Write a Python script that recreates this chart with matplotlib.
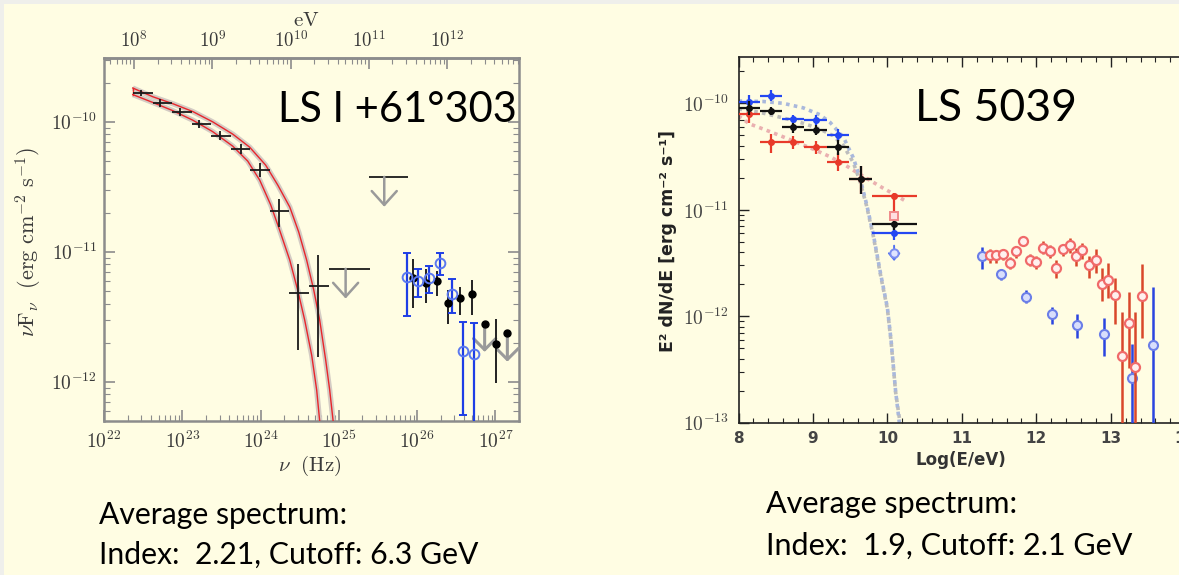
import matplotlib.pyplot as plt
import numpy as np
from matplotlib.patches import Rectangle
from matplotlib.ticker import FuncFormatter, LogLocator, NullFormatter, MultipleLocator

plt.rcParams['mathtext.fontset'] = 'cm'

W, H = 1179, 575
CREAM = '#fffde3'

# ---------------- LS I +61 303 (left panel), nu in Hz, nuFnu in erg/cm2/s
lat_nu = [2.95e22, 5.15e22, 9.27e22, 1.65e23, 3.03e23, 5.56e23, 9.9e23, 1.73e24, 3.05e24, 5.42e24]
lat_nu_lo = [2.34e22, 4.17e22, 7.41e22, 1.32e23, 2.34e23, 4.17e23, 7.41e23, 1.32e24, 2.34e24, 4.17e24]
lat_nu_hi = [4.17e22, 7.41e22, 1.32e23, 2.34e23, 4.17e23, 7.41e23, 1.32e24, 2.34e24, 4.17e24, 7.41e24]
lat_flux = [1.67e-10, 1.40e-10, 1.19e-10, 9.7e-11, 7.8e-11, 6.2e-11, 4.25e-11, 2.07e-11, 4.86e-12, 5.47e-12]
lat_lo = [1.57e-10, 1.31e-10, 1.11e-10, 9.0e-11, 7.2e-11, 5.7e-11, 3.75e-11, 1.56e-11, 1.75e-12, 1.56e-12]
lat_hi = [1.77e-10, 1.49e-10, 1.27e-10, 1.04e-10, 8.5e-11, 6.8e-11, 4.8e-11, 2.53e-11, 8.13e-12, 9.4e-12]

# upper limits with horizontal bars
ul_nu = [1.22e25, 3.8e25]
ul_nu_lo = [7.5e24, 2.4e25]
ul_nu_hi = [2.47e25, 7.7e25]
ul_flux = [7.4e-12, 3.77e-11]
ul_tip = [4.37e-12, 2.22e-11]

# model band (two curves)
band_hi_nu = [2.33e22, 4.19e22, 7.53e22, 1.36e23, 2.44e23, 4.41e23, 7.26e23, 1.16e24, 1.66e24,
              2.36e24, 3.07e24, 3.88e24, 4.78e24, 5.69e24, 6.79e24, 7.64e24, 8.45e24, 9.2e24]
band_hi_f = [1.82e-10, 1.56e-10, 1.38e-10, 1.20e-10, 1.00e-10, 8.04e-11, 6.38e-11, 4.65e-11, 3.26e-11,
             2.21e-11, 1.42e-11, 8.63e-12, 5.08e-12, 2.99e-12, 1.47e-12, 8.63e-13, 4.99e-13, 2.9e-13]
band_lo_nu = [2.33e22, 4.19e22, 7.53e22, 1.36e23, 2.44e23, 4.41e23, 6.85e23, 9.75e23, 1.35e24,
              1.75e24, 2.36e24, 2.98e24, 3.66e24, 4.50e24, 5.21e24, 5.69e24, 6.2e24]
band_lo_f = [1.62e-10, 1.41e-10, 1.22e-10, 1.03e-10, 8.41e-11, 6.50e-11, 4.99e-11, 3.56e-11, 2.29e-11,
             1.47e-11, 8.63e-12, 5.08e-12, 2.99e-12, 1.60e-12, 8.63e-13, 4.99e-13, 2.9e-13]

# blue open circles
mag_nu = [7.35e25, 1.02e26, 1.42e26, 1.98e26, 2.76e26, 3.81e26, 5.31e26]
mag_flux = [6.43e-12, 5.98e-12, 6.31e-12, 8.15e-12, 4.73e-12, 1.72e-12, 1.63e-12]
mag_lo = [3.20e-12, 4.46e-12, 4.84e-12, 6.62e-12, 3.36e-12, 5.55e-13, 3e-13]
mag_hi = [9.73e-12, 7.36e-12, 7.76e-12, 9.83e-12, 6.14e-12, 2.9e-12, 2.84e-12]

# black dots
ver_nu = [8.83e25, 1.28e26, 1.79e26, 2.50e26, 3.49e26, 5.07e26, 1.01e27]
ver_flux = [6.31e-12, 5.71e-12, 5.96e-12, 4.01e-12, 4.39e-12, 4.70e-12, 1.97e-12]
ver_lo = [3.67e-12, 4.01e-12, 4.56e-12, 2.81e-12, 3.26e-12, 3.26e-12, 9.73e-13]
ver_hi = [8.8e-12, 7.33e-12, 7.15e-12, 5.07e-12, 5.38e-12, 6.05e-12, 3.02e-12]
ver_ul_nu = [7.28e26, 1.42e27]
ver_ul_flux = [2.81e-12, 2.38e-12]
ver_ul_tip = [1.70e-12, 1.43e-12]

# ---------------- LS 5039 (right panel), log10(E/eV)
fermi_x = [8.14, 8.43, 8.73, 9.04, 9.34, 9.64, 10.09]
fermi_xlo = [8.0, 8.29, 8.58, 8.88, 9.19, 9.49, 9.79]
fermi_xhi = [8.29, 8.58, 8.88, 9.19, 9.49, 9.79, 10.40]
blue_idx = [0, 1, 2, 3, 4, 6]
blue_flux = [1.02e-10, 1.18e-10, 7.13e-11, 7.03e-11, 5.08e-11, 6.0e-12]
blue_lo = [8.6e-11, 1.06e-10, 6.5e-11, 6.3e-11, 4.5e-11, 5.2e-12]
blue_hi = [1.2e-10, 1.32e-10, 7.8e-11, 7.8e-11, 5.7e-11, 6.8e-12]
black_flux = [9.05e-11, 8.41e-11, 5.94e-11, 5.62e-11, 3.86e-11, 1.95e-11, 7.43e-12]
black_lo = [7.8e-11, 7.7e-11, 5.3e-11, 5.0e-11, 3.3e-11, 1.4e-11, 6.5e-12]
black_hi = [1.05e-10, 9.2e-11, 6.6e-11, 6.3e-11, 4.5e-11, 2.6e-11, 8.4e-12]
red_flux = [7.95e-11, 4.30e-11, 4.30e-11, 3.86e-11, 2.83e-11, 1.95e-11, 1.36e-11]
red_lo = [6.5e-11, 3.45e-11, 3.75e-11, 3.35e-11, 2.3e-11, 1.4e-11, 8.5e-12]
red_hi = [9.3e-11, 5.2e-11, 4.9e-11, 4.4e-11, 3.4e-11, 2.6e-11, 1.45e-11]

# model curves
mod_blue_x = [8.0, 8.33, 8.6, 8.87, 9.09, 9.23, 9.41, 9.54, 9.63, 9.72, 9.81, 9.91, 10.0, 10.05, 10.11, 10.16]
mod_blue_f = [1.05e-10, 1.04e-10, 1.0e-10, 9.06e-11, 7.83e-11, 6.62e-11, 4.79e-11, 3.10e-11, 2.01e-11,
              1.13e-11, 5.90e-12, 2.48e-12, 1.20e-12, 5.86e-13, 1.98e-13, 1.0e-13]
mod_gray_x = [8.0, 8.29, 8.6, 8.87, 9.09, 9.27, 9.41, 9.54, 9.63, 9.72, 9.81, 9.91, 10.0, 10.05, 10.11, 10.17]
mod_gray_f = [8.85e-11, 8.22e-11, 7.29e-11, 6.49e-11, 5.74e-11, 4.97e-11, 4.0e-11, 2.79e-11, 1.87e-11,
              1.09e-11, 5.69e-12, 2.39e-12, 1.17e-12, 5.71e-13, 1.94e-13, 1.0e-13]
mod_pink_x = [8.0, 8.15, 8.33, 8.56, 8.78, 9.0, 9.23, 9.41, 9.59, 9.76, 9.94, 10.12, 10.25]
mod_pink_f = [7.59e-11, 6.40e-11, 5.74e-11, 4.97e-11, 4.30e-11, 3.72e-11, 3.15e-11, 2.69e-11, 2.24e-11,
              1.90e-11, 1.60e-11, 1.36e-11, 1.20e-11]

# TeV points
hess_x = [11.375, 11.465, 11.554, 11.644, 11.733, 11.823, 11.912, 12.002, 12.092, 12.181, 12.271, 12.360,
          12.450, 12.531, 12.620, 12.710, 12.795, 12.884, 12.969, 13.054, 13.153, 13.247, 13.332, 13.422]
hess_flux = [3.75e-12, 3.75e-12, 3.83e-12, 3.19e-12, 4.06e-12, 5.04e-12, 3.37e-12, 3.24e-12, 4.42e-12,
             4.06e-12, 2.81e-12, 4.27e-12, 4.69e-12, 3.69e-12, 4.18e-12, 3.04e-12, 3.37e-12, 2.0e-12,
             2.18e-12, 1.58e-12, 4.21e-13, 8.65e-13, 3.36e-13, 1.54e-12]
hess_lo = [3.13e-12, 3.19e-12, 3.37e-12, 2.77e-12, 3.56e-12, 4.58e-12, 2.97e-12, 2.77e-12, 3.88e-12,
           3.51e-12, 2.28e-12, 3.69e-12, 3.96e-12, 2.97e-12, 3.44e-12, 2.28e-12, 2.57e-12, 1.39e-12,
           1.48e-12, 8.5e-13, 8e-14, 3.28e-13, 8e-14, 6.2e-13]
hess_hi = [4.27e-12, 4.18e-12, 4.27e-12, 3.61e-12, 4.58e-12, 5.57e-12, 3.83e-12, 3.69e-12, 5.04e-12,
           4.69e-12, 3.37e-12, 4.82e-12, 5.48e-12, 4.37e-12, 4.92e-12, 3.69e-12, 4.27e-12, 2.83e-12,
           3.19e-12, 2.28e-12, 1.10e-12, 1.70e-12, 1.10e-12, 3.08e-12]
hessb_x = [11.277, 11.519, 11.858, 12.212, 12.553, 12.915, 13.282, 13.568]
hessb_flux = [3.69e-12, 2.48e-12, 1.52e-12, 1.04e-12, 8.28e-13, 6.78e-13, 2.61e-13, 5.37e-13]
hessb_lo = [2.77e-12, 2.18e-12, 1.34e-12, 8.5e-13, 6.2e-13, 4.24e-13, 8e-14, 8e-14]
hessb_hi = [4.49e-12, 2.71e-12, 1.76e-12, 1.22e-12, 1.06e-12, 9.7e-13, 5.46e-13, 1.89e-12]


def rect(x0, y0, x1, y1):
    # pixel box -> figure fraction
    return [x0 / W, 1 - y1 / H, (x1 - x0) / W, (y1 - y0) / H]


def asym(v, lo, hi):
    v = np.array(v)
    return [v - np.array(lo), np.array(hi) - v]


def pow10(v, pos):
    return r'$10^{%d}$' % int(round(np.log10(v)))


def pow10_sf(v, pos):
    return r'$\mathsf{10^{%d}}$' % int(round(np.log10(v)))


fig = plt.figure(figsize=(W / 100, H / 100), dpi=100)
fig.patch.set_facecolor('#efefeb')
fig.add_artist(Rectangle((4 / W, 0), 1, 1 - 4 / H, transform=fig.transFigure,
                         facecolor=CREAM, edgecolor='none', zorder=-10))

# ================= left panel
ax = fig.add_axes(rect(104, 58.3, 519, 421))
ax.set_facecolor('none')
ax.set_xscale('log')
ax.set_yscale('log')
ax.set_xlim(1e22, 2.0e27)
ax.set_ylim(5.0e-13, 3.08e-10)

gcol = '#8c8c8c'
tcol = '#3a3a3a'
for s in ax.spines.values():
    s.set_color(gcol)
    s.set_linewidth(1.8)
ax.tick_params(which='both', direction='in', color=gcol, top=False, right=True,
               labelsize=14, labelcolor=tcol)
ax.tick_params(which='major', length=8, width=1.2)
ax.tick_params(which='minor', length=4, width=0.8)
ax.tick_params(axis='y', pad=5)
ax.tick_params(axis='x', pad=7)
ax.xaxis.set_major_locator(LogLocator(10))
ax.xaxis.set_minor_locator(LogLocator(10, subs=np.arange(2, 10)))
ax.yaxis.set_minor_locator(LogLocator(10, subs=np.arange(2, 10)))
ax.xaxis.set_major_formatter(FuncFormatter(pow10))
ax.yaxis.set_major_formatter(FuncFormatter(pow10))
ax.xaxis.set_minor_formatter(NullFormatter())
ax.yaxis.set_minor_formatter(NullFormatter())

h_ev = 4.1357e-15
top = ax.secondary_xaxis('top', functions=(lambda n: n * h_ev, lambda e: e / h_ev))
top.spines['top'].set_color(gcol)
top.spines['top'].set_linewidth(1.8)
top.xaxis.set_major_locator(LogLocator(10))
top.xaxis.set_minor_locator(LogLocator(10, subs=np.arange(2, 10)))
top.xaxis.set_major_formatter(FuncFormatter(pow10))
top.xaxis.set_minor_formatter(NullFormatter())
top.tick_params(which='both', direction='in', color=gcol, labelsize=13.5, labelcolor=tcol, pad=5)
top.tick_params(which='major', length=8, width=1.2)
top.tick_params(which='minor', length=4, width=0.8)

# model band
for xs, ys in [(band_hi_nu, band_hi_f), (band_lo_nu, band_lo_f)]:
    ax.plot(xs, ys, color='#d4ccc4', lw=3.8, solid_capstyle='butt', zorder=2)
    ax.plot(xs, ys, color='#e8262b', lw=1.0, zorder=3)
ax.plot([band_hi_nu[0], band_lo_nu[0]], [band_hi_f[0], band_lo_f[0]], color='#e8262b', lw=1.0, zorder=3)

ax.errorbar(lat_nu, lat_flux, yerr=asym(lat_flux, lat_lo, lat_hi),
            xerr=asym(lat_nu, lat_nu_lo, lat_nu_hi), fmt='none', ecolor='#1a1a1a', elinewidth=1.3, zorder=4)

# upper limits
ax.hlines(ul_flux, ul_nu_lo, ul_nu_hi, color='#1a1a1a', lw=1.3)
for x, y, t in zip(ul_nu, ul_flux, ul_tip):
    ax.annotate('', xy=(x, t), xytext=(x, y),
                arrowprops=dict(arrowstyle='->,head_length=0.5,head_width=0.45', color='#9a9a9a',
                                lw=1.8, mutation_scale=20, shrinkA=0, shrinkB=0))
for x, y, t in zip(ver_ul_nu, ver_ul_flux, ver_ul_tip):
    ax.annotate('', xy=(x, t), xytext=(x, y),
                arrowprops=dict(arrowstyle='->,head_length=0.4,head_width=0.4', color='#9a9a9a',
                                lw=2.2, mutation_scale=20, shrinkA=0, shrinkB=0))
ax.plot(ver_ul_nu, ver_ul_flux, 'o', color='k', ms=5, zorder=6)

ax.errorbar(ver_nu, ver_flux, yerr=asym(ver_flux, ver_lo, ver_hi), fmt='o', color='k', ms=5,
            ecolor='#222222', elinewidth=1.4, zorder=5)
ax.errorbar(mag_nu, mag_flux, yerr=asym(mag_flux, mag_lo, mag_hi), fmt='o', mfc='none', mec='#5a78f0',
            mew=1.4, ms=7, ecolor='#1e3ee6', elinewidth=1.6, capsize=3, capthick=1.4, zorder=5)

fig.text(29 / W, 1 - 242 / H, r'$\nu\mathrm{F}_\nu\ \ (\mathrm{erg\ cm^{-2}\ s^{-1}})$', rotation=90,
         ha='center', va='center', fontsize=16, color=tcol)
fig.text(310 / W, 1 - 466 / H, r'$\nu\ \ (\mathrm{Hz})$', ha='center', va='center', fontsize=15, color=tcol)
fig.text(306 / W, 1 - 20 / H, r'$\mathrm{eV}$', ha='center', va='center', fontsize=15, color=tcol)

# ================= right panel
bx = fig.add_axes(rect(738.5, 56.7, 1215, 422.7))
bx.set_facecolor('none')
bx.set_yscale('log')
bx.set_xlim(8, 14.4)
bx.set_ylim(1e-13, 2.74e-10)
for s in bx.spines.values():
    s.set_color('#222222')
    s.set_linewidth(1.2)
bx.xaxis.set_major_locator(MultipleLocator(1))
bx.xaxis.set_minor_locator(MultipleLocator(0.2))
bx.yaxis.set_minor_locator(LogLocator(10, subs=np.arange(2, 10)))
bx.yaxis.set_minor_formatter(NullFormatter())
bx.yaxis.set_major_formatter(FuncFormatter(pow10_sf))
bx.xaxis.set_major_formatter(FuncFormatter(lambda v, p: '%d' % v))
bx.tick_params(which='both', direction='in', top=True, right=True, color='#222222',
               labelcolor='#444444')
bx.tick_params(axis='y', labelsize=14, pad=7)
bx.tick_params(axis='x', labelsize=11, pad=6)
bx.tick_params(which='major', length=7, width=1.0)
bx.tick_params(which='minor', length=3.5, width=0.8)
for lab in bx.get_xticklabels():
    lab.set_fontweight('bold')

# model curves (dotted)
bx.plot(mod_pink_x, mod_pink_f, ls=(0, (1, 1.2)), lw=2.6, color='#eab0b0', zorder=2)
bx.plot(mod_gray_x, mod_gray_f, ls=(0, (1, 1.2)), lw=2.6, color='#bdbdbd', zorder=2)
bx.plot(mod_blue_x, mod_blue_f, ls=(0, (1, 1.2)), lw=2.6, color='#a9b8dc', zorder=2)

fx = np.array(fermi_x)
fxl = np.array(fermi_xlo)
fxh = np.array(fermi_xhi)
bi = np.array(blue_idx)
bx.errorbar(fx[bi], blue_flux, yerr=asym(blue_flux, blue_lo, blue_hi),
            xerr=[fx[bi] - fxl[bi], fxh[bi] - fx[bi]], fmt='o', color='#2447f2', ms=4,
            elinewidth=1.6, zorder=4)
bx.errorbar(fx, black_flux, yerr=asym(black_flux, black_lo, black_hi),
            xerr=[fx - fxl, fxh - fx], fmt='o', color='#111111', ms=4, elinewidth=1.6, zorder=5)
bx.errorbar(fx, red_flux, yerr=asym(red_flux, red_lo, red_hi),
            xerr=[fx - fxl, fxh - fx], fmt='o', color='#e83a2a', ms=4, elinewidth=1.6, zorder=4)
bx.plot([fermi_x[-1]], [8.8e-12], 's', mfc='#ffe0e0', mec='#f08a8a', ms=6, mew=1.4, zorder=5)
bx.annotate('', xy=(fermi_x[-1], 3.3e-12), xytext=(fermi_x[-1], 4.6e-12),
            arrowprops=dict(arrowstyle='->,head_length=0.3,head_width=0.25', color='#5070f0',
                            lw=1.4, mutation_scale=15, shrinkA=0, shrinkB=0))
bx.plot([fermi_x[-1]], [3.9e-12], 'o', mfc='#dfe4ff', mec='#7c8ef0', ms=6, mew=1.4, zorder=5)

bx.errorbar(hessb_x, hessb_flux, yerr=asym(hessb_flux, hessb_lo, hessb_hi), fmt='o',
            mfc='#d8defc', mec='#6b7ee8', mew=1.5, ms=6.5, ecolor='#2a45e0', elinewidth=1.8, zorder=4)
bx.errorbar(hess_x, hess_flux, yerr=asym(hess_flux, hess_lo, hess_hi), fmt='o',
            mfc='#fff0ee', mec='#f06a6a', mew=1.6, ms=6.5, ecolor='#d9472b', elinewidth=1.8, zorder=5)

fig.text(668 / W, 1 - 241 / H, 'E² dN/dE [erg cm⁻² s⁻¹]', rotation=90, ha='center', va='center',
         fontsize=12.5, fontweight='bold', color='#222222')
fig.text(961 / W, 1 - 460 / H, 'Log(E/eV)', ha='center', va='center', fontsize=12,
         fontweight='bold', color='#333333')

# ================= slide text
tkw = dict(family='Lato', color='black', va='baseline', ha='left')
fig.text(278 / W, 1 - 122 / H, 'LS I +61°303', fontsize=30, **tkw)
fig.text(915 / W, 1 - 120.7 / H, 'LS 5039', fontsize=32, **tkw)
fig.text(98.7 / W, 1 - 524 / H, 'Average spectrum:', fontsize=21.7, **tkw)
fig.text(98.7 / W, 1 - 564 / H, 'Index:  2.21, Cutoff: 6.3 GeV', fontsize=21.7, **tkw)
fig.text(766.5 / W, 1 - 513 / H, 'Average spectrum:', fontsize=22, **tkw)
fig.text(766.5 / W, 1 - 555 / H, 'Index:  1.9, Cutoff: 2.1 GeV', fontsize=22, **tkw)

fig.savefig('out.png', dpi=100, facecolor=fig.get_facecolor())
